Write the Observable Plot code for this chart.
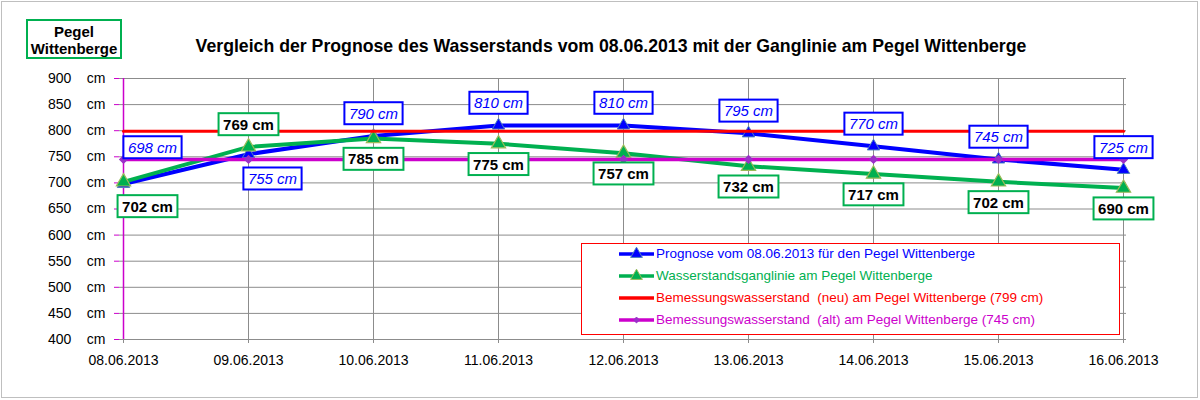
<!DOCTYPE html>
<html><head><meta charset="utf-8">
<script src="https://cdn.jsdelivr.net/npm/d3@7"></script>
<script src="https://cdn.jsdelivr.net/npm/@observablehq/plot@0.6"></script>
<style>
body{margin:0;background:#fff;font-family:"Liberation Sans",Arial,sans-serif;}
#wrap{position:relative;width:1200px;height:400px;overflow:hidden;background:#fff}
#frame{position:absolute;left:1px;top:1px;width:1197px;height:397px;box-sizing:border-box;border:1px solid #bfbfbf;pointer-events:none}
#header{position:relative;height:62px}
#pegel{position:absolute;left:26px;top:19px;width:96px;height:40px;box-sizing:border-box;border:2px solid #00b050;font-weight:bold;font-size:15px;line-height:17px;text-align:center;padding-top:2px;color:#000}
#title{position:absolute;left:0;top:35px;width:1222px;text-align:center;font-weight:bold;font-size:17.7px;line-height:22px;color:#000}
#chart{position:relative;height:338px}
#legend{position:absolute;left:581px;top:243px;width:539px;height:92px;box-sizing:border-box;border:1px solid #ff0000;background:#fff}
.lrow{position:absolute;left:36px;height:22px;display:flex;align-items:center;font-size:13.5px;white-space:pre}
.lrow svg{margin-right:1px}
</style></head><body>
<div id="wrap">
  <div id="header">
    <div id="pegel">Pegel<br>Wittenberge</div>
    <div id="title">Vergleich der Prognose des Wasserstands vom 08.06.2013 mit der Ganglinie am Pegel Wittenberge</div>
  </div>
  <div id="chart"></div>
  <div id="legend"></div>
  <div id="frame"></div>
</div>
<script>
// ---- data ----
const dates = ["08.06.2013","09.06.2013","10.06.2013","11.06.2013","12.06.2013","13.06.2013","14.06.2013","15.06.2013","16.06.2013"];
const prognose = [698, 755, 790, 810, 810, 795, 770, 745, 725];
const wasserstand = [702, 769, 785, 775, 757, 732, 717, 702, 690];
const bemessungNeu = 799;
const bemessungAlt = 745;
const yTicks = [400, 450, 500, 550, 600, 650, 700, 750, 800, 850, 900];
const prognosePlace = ["above-right","below-right","above","above","above","above","above","above","above"];
const wasserstandPlace = ["below-right","above","below","below","below","below","below","below","below"];
const seriesNames = [
  "Prognose vom 08.06.2013 für den Pegel Wittenberge",
  "Wasserstandsganglinie am Pegel Wittenberge",
  "Bemessungswasserstand  (neu) am Pegel Wittenberge (799 cm)",
  "Bemessungswasserstand  (alt) am Pegel Wittenberge (745 cm)"
];

// ---- styles ----
const BLUE = "#0000ff", GREEN = "#00b050", RED = "#ff0000", MAG = "#cc00cc", DOTC = "#9b30c8";
const offsets = {"above":[0,-22], "below":[0,21], "above-right":[29,-36], "below-right":[24,25]};

const rows = dates.map((d, i) => ({date: d, prog: prognose[i], wst: wasserstand[i], pp: prognosePlace[i], wp: wasserstandPlace[i]}));

const labelMarks = [];
for (const [p, [dx, dy]] of Object.entries(offsets)) {
  labelMarks.push(Plot.text(rows, {filter: d => d.pp === p, x: "date", y: "prog", text: d => d.prog + " cm", dx, dy,
    fill: BLUE, fontStyle: "italic", fontSize: 15, className: "lblB"}));
  labelMarks.push(Plot.text(rows, {filter: d => d.wp === p, x: "date", y: "wst", text: d => d.wst + " cm", dx, dy,
    fill: "#000", fontWeight: "bold", fontSize: 15, className: "lblG"}));
}

const chart = Plot.plot({
  width: 1200, height: 338,
  marginLeft: 119, marginRight: 74, marginTop: 16, marginBottom: 61,
  style: {fontFamily: "Liberation Sans, Arial, sans-serif", color: "#000", background: "transparent"},
  x: {type: "point", domain: dates, padding: 0, label: null},
  y: {domain: [400, 900], label: null},
  marks: [
    Plot.ruleY(yTicks, {stroke: "#8c8c8c", strokeWidth: 1}),
    Plot.ruleX(dates, {stroke: "#8c8c8c", strokeWidth: 1}),
    Plot.axisX({tickSize: 4, tickPadding: 12, stroke: "#8c8c8c", fill: "#000", fontSize: 14, label: null}),
    Plot.axisY({ticks: yTicks, tickFormat: d => d + "\u00a0\u00a0\u00a0\u00a0cm", tickSize: 5, tickPadding: 9, stroke: MAG, fill: "#000", fontSize: 14, label: null}),
    Plot.ruleX([dates[0]], {stroke: MAG, strokeWidth: 1.5}),
    Plot.line(rows, {x: "date", y: "prog", stroke: BLUE, strokeWidth: 4}),
    Plot.dot(rows, {x: "date", y: "prog", symbol: "triangle", r: 4.6, fill: BLUE, stroke: "#4f81bd", strokeWidth: 1}),
    Plot.line(rows, {x: "date", y: "wst", stroke: GREEN, strokeWidth: 4}),
    Plot.dot(rows, {x: "date", y: "wst", symbol: "triangle", r: 5.3, fill: GREEN, stroke: "#9bbb59", strokeWidth: 1.2}),
    Plot.line(dates, {x: d => d, y: () => bemessungNeu, stroke: RED, strokeWidth: 3}),
    Plot.line(dates, {x: d => d, y: () => bemessungAlt, stroke: MAG, strokeWidth: 3.5}),
    Plot.dot(dates, {x: d => d, y: () => bemessungAlt, symbol: "diamond2", r: 3.2, fill: DOTC, stroke: DOTC}),
    ...labelMarks
  ]
});
document.getElementById("chart").appendChild(chart);

// boxes behind labels
const NS = "http://www.w3.org/2000/svg";
function boxes(sel, color) {
  chart.querySelectorAll(sel + " text").forEach(t => {
    const b = t.getBBox();
    const r = document.createElementNS(NS, "rect");
    r.setAttribute("x", b.x - 4.5);
    r.setAttribute("y", b.y - 2.5);
    r.setAttribute("width", b.width + 9);
    r.setAttribute("height", b.height + 5);
    r.setAttribute("fill", "#fff");
    r.setAttribute("stroke", color);
    r.setAttribute("stroke-width", 2);
    const tr = t.getAttribute("transform");
    if (tr) r.setAttribute("transform", tr);
    t.parentNode.insertBefore(r, t);
  });
}
boxes("g.lblB", BLUE);
boxes("g.lblG", GREEN);

// legend
const legendStyles = [
  {color: BLUE, textColor: BLUE, marker: "triangle", mfill: BLUE, mstroke: "#4f81bd"},
  {color: GREEN, textColor: GREEN, marker: "triangle", mfill: GREEN, mstroke: "#9bbb59"},
  {color: RED, textColor: RED, marker: null},
  {color: MAG, textColor: MAG, marker: "diamond", mfill: DOTC, mstroke: DOTC}
];
const leg = d3.select("#legend");
seriesNames.forEach((name, i) => {
  const s = legendStyles[i];
  const row = leg.append("div").attr("class", "lrow").style("top", (i * 22 - 1.5) + "px");
  const sv = row.append("svg").attr("width", 37).attr("height", 14);
  sv.append("line").attr("x1", 1).attr("x2", 36).attr("y1", 7).attr("y2", 7).attr("stroke", s.color).attr("stroke-width", 3.5);
  if (s.marker) {
    const sym = s.marker === "triangle" ? d3.symbolTriangle : d3.symbolDiamond2;
    const size = s.marker === "triangle" ? 60 : 22;
    sv.append("path").attr("d", d3.symbol(sym, size)()).attr("transform", "translate(18.5,7)")
      .attr("fill", s.mfill).attr("stroke", s.mstroke).attr("stroke-width", 1);
  }
  row.append("span").style("color", s.textColor).text(name);
});
</script>
</body></html>
